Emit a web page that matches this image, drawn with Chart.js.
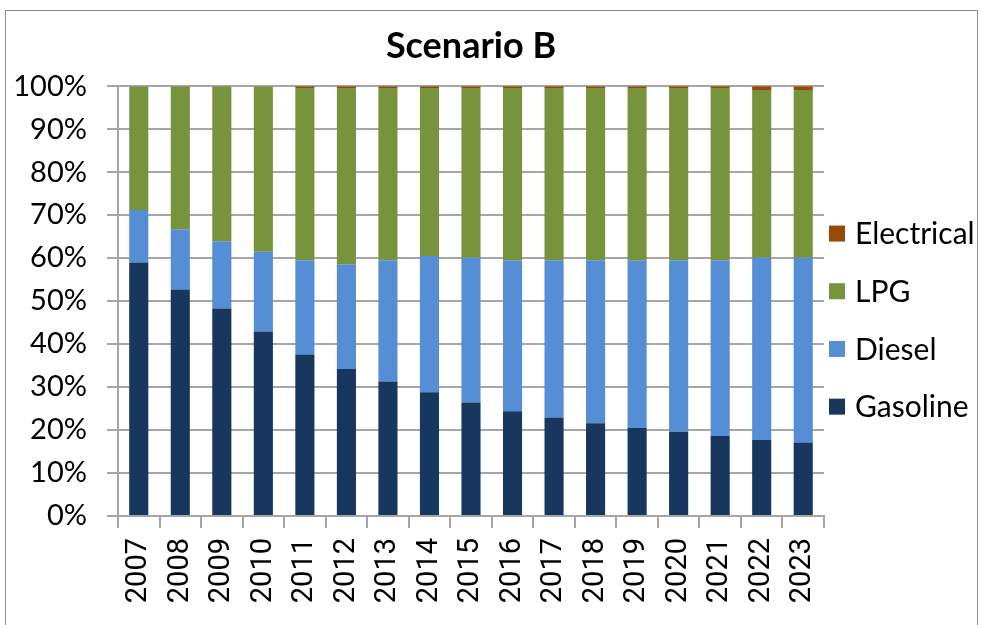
<!DOCTYPE html>
<html>
<head>
<meta charset="utf-8">
<script src="https://cdn.jsdelivr.net/npm/chart.js@4.4.1/dist/chart.umd.min.js"></script>
<style>
  html, body { margin:0; padding:0; background:#fff; overflow:hidden; }
  #wrap { position:relative; width:981px; height:625px; }
  #frame { position:absolute; left:5px; top:10px; width:971px; height:700px; border:1px solid #8c8c8c; pointer-events:none; }
</style>
</head>
<body>
<div id="wrap">
  <canvas id="chart" width="981" height="625"></canvas>
  <div id="frame"></div>
</div>
<script>
// Scenario B - fuel share per year (stacked to 100%)
const years = ['2007','2008','2009','2010','2011','2012','2013','2014','2015','2016','2017','2018','2019','2020','2021','2022','2023'];
const gasoline = [59.0, 52.7, 48.3, 42.9, 37.6, 34.2, 31.3, 28.8, 26.4, 24.4, 22.9, 21.6, 20.5, 19.6, 18.6, 17.7, 17.1];
const diesel = [12.2, 14.0, 15.6, 18.6, 21.9, 24.4, 28.2, 31.7, 33.7, 35.1, 36.6, 37.9, 39.0, 39.9, 40.9, 42.4, 43.0];
const lpg = [28.8, 33.3, 36.1, 38.5, 40.1, 41.0, 40.1, 39.1, 39.5, 40.1, 40.1, 40.1, 40.1, 40.1, 40.1, 39.0, 39.0];
const electrical = [0, 0, 0, 0, 0.4, 0.4, 0.4, 0.4, 0.4, 0.4, 0.4, 0.4, 0.4, 0.4, 0.4, 0.9, 0.9];
const yTicks = [0, 10, 20, 30, 40, 50, 60, 70, 80, 90, 100];

const GRID = '#a6a6a6';
const FONT = 'Lato';

const ctx = document.getElementById('chart').getContext('2d');

function ds(label, data, color){
  return { label, data, backgroundColor: color, borderWidth: 0, barPercentage: 0.46, categoryPercentage: 1 };
}

// legend on the right, drawn like the excel one (top item = last series)
const sideLegend = {
  id: 'sideLegend',
  afterDraw(chart){
    const c = chart.ctx;
    const area = chart.chartArea;
    const items = chart.data.datasets.slice().reverse();
    const mid = (area.top + area.bottom) / 2 + 19;
    c.save();
    c.font = '30px ' + FONT;
    c.textBaseline = 'middle';
    items.forEach((d, i) => {
      const y = mid + (i - 1.5) * 57.7;
      c.fillStyle = d.backgroundColor;
      c.fillRect(area.right + 5, y - 8, 16, 16);
      c.fillStyle = '#000';
      c.fillText(d.label, area.right + 31, y + 1);
    });
    c.restore();
  }
};

const chart = new Chart(ctx, {
  type: 'bar',
  data: {
    labels: years,
    datasets: [
      ds('Gasoline', gasoline, '#17375E'),
      ds('Diesel', diesel, '#558ED5'),
      ds('LPG', lpg, '#77933C'),
      ds('Electrical', electrical, '#984807')
    ]
  },
  options: {
    responsive: false,
    animation: false,
    layout: { padding: { left: 0, right: 157, top: 0, bottom: 0 } },
    plugins: {
      title: {
        display: true,
        text: 'Scenario B',
        fullSize: false,
        color: '#000',
        font: { family: FONT, size: 36, weight: 'bold' },
        padding: { top: 25, bottom: 18 }
      },
      legend: { display: false },
      tooltip: { enabled: false }
    },
    scales: {
      x: {
        stacked: true,
        afterFit: s => { s.height = 109; },
        grid: { drawOnChartArea: false, drawTicks: true, tickLength: 12, color: GRID, offset: true, lineWidth: 2 },
        border: { color: GRID, width: 2 },
        ticks: {
          color: '#000',
          font: { family: 'Roboto', size: 29 },
          minRotation: 90,
          maxRotation: 90,
          padding: 10
        }
      },
      y: {
        stacked: true,
        min: 0,
        max: 100,
        afterFit: s => { s.width = 118; },
        afterBuildTicks: axis => { axis.ticks = yTicks.map(v => ({ value: v })); },
        grid: { color: GRID, lineWidth: 2, tickLength: 11 },
        border: { color: GRID, width: 2 },
        ticks: {
          color: '#000',
          font: { family: FONT, size: 29 },
          padding: 20,
          callback: v => v + '%'
        }
      }
    }
  },
  plugins: [sideLegend]
});
</script>
</body>
</html>
